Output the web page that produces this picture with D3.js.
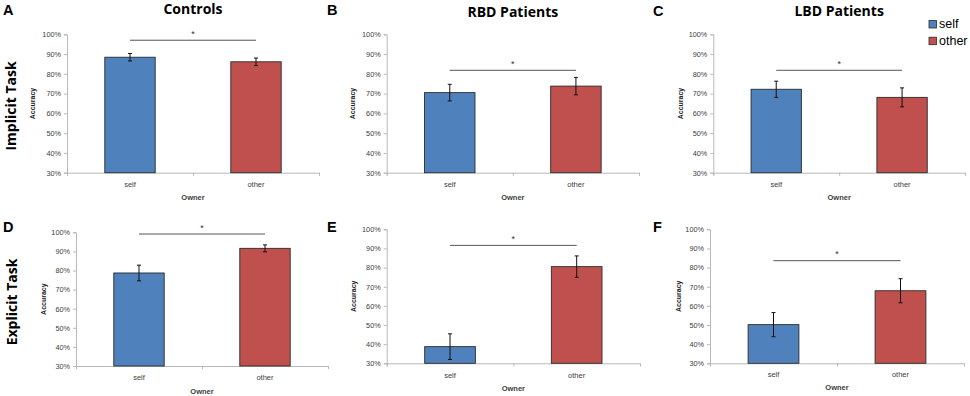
<!DOCTYPE html>
<html>
<head>
<meta charset="utf-8">
<script src="https://cdn.jsdelivr.net/npm/d3@7"></script>
<style>
  html, body { margin: 0; padding: 0; background: #fff; }
  svg { display: block; font-family: "Liberation Sans", Arial, sans-serif; }
</style>
</head>
<body>
<svg id="chart" width="970" height="396"></svg>
<script>
// ---- data ----
const categories = ["self", "other"];
const panelLetters = ["A", "B", "C", "D", "E", "F"];
const groupTitles = ["Controls", "RBD Patients", "LBD Patients"];
const taskLabels = ["Implicit Task", "Explicit Task"];
const selfMeans  = [88.4, 70.5, 72.2, 78.7, 38.7, 50.2];
const otherMeans = [86.1, 73.8, 68.1, 91.6, 80.5, 67.9];
const selfErr    = [1.9, 4.2, 4.1, 4.1, 6.7, 6.3];
const otherErr   = [1.9, 4.4, 4.8, 1.8, 5.6, 6.3];
const sigLevel   = [97.0, 81.8, 81.8, 99.1, 91.6, 83.6];
const yTicks = [30, 40, 50, 60, 70, 80, 90, 100];
const yDomain = [30, 100];
const xTitle = "Owner";
const yTitle = "Accuracy";

// ---- layout ----
const layout = [
  {left: 67,    right: 319, top: 34.3,  bottom: 172.7, letterX: 3,   letterY: 15,    titleY: 13.5, accX: 32.5, selfY: 187,   ownerY: 200},
  {left: 386.7, right: 639, top: 34.3,  bottom: 172.7, letterX: 327, letterY: 15,    titleY: 16.5, accX: 352,  selfY: 187,   ownerY: 200},
  {left: 713.3, right: 965, top: 34.3,  bottom: 172.7, letterX: 653, letterY: 15.5,  titleY: 16,   accX: 680,  selfY: 187,   ownerY: 200},
  {left: 76,    right: 328, top: 232.3, bottom: 366,   letterX: 3,   letterY: 231.5, titleY: null, accX: 43,   selfY: 379.5, ownerY: 393.5},
  {left: 386.7, right: 640, top: 229.3, bottom: 363.3, letterX: 327, letterY: 231.5, titleY: null, accX: 353,  selfY: 378,   ownerY: 391},
  {left: 710,   right: 964, top: 229.3, bottom: 363.3, letterX: 653, letterY: 231.5, titleY: null, accX: 678,  selfY: 377,   ownerY: 389.5}
];
const colors = {self: "#4f81bd", other: "#c0504d"};
const axisColor = "#b8b8b8";
const textColor = "#404040";

const svg = d3.select("#chart");

layout.forEach((L, i) => {
  const g = svg.append("g");
  const x = d3.scaleBand().domain(categories).range([L.left, L.right]).paddingInner(0.6).paddingOuter(0.3);
  const y = d3.scaleLinear().domain(yDomain).range([L.bottom, L.top]);
  const vals = [
    {cat: "self",  mean: selfMeans[i],  err: selfErr[i]},
    {cat: "other", mean: otherMeans[i], err: otherErr[i]}
  ];

  // y axis
  const ya = g.append("g").attr("transform", `translate(${L.left},0)`)
    .call(d3.axisLeft(y).tickValues(yTicks).tickFormat(d => d + "%").tickSizeOuter(0).tickSize(3).tickPadding(3));
  ya.select(".domain").attr("stroke", axisColor);
  ya.selectAll(".tick line").attr("stroke", axisColor);
  ya.selectAll(".tick text").attr("fill", textColor).attr("font-size", 7.3)
    .attr("font-family", "'Liberation Sans', Arial, sans-serif");

  // x axis line with ticks at ends and middle
  const xl = d3.scaleLinear().domain([0, 1]).range([L.left, L.right]);
  const xa = g.append("g").attr("transform", `translate(0,${L.bottom})`)
    .call(d3.axisBottom(xl).tickValues([0, 0.5, 1]).tickFormat("").tickSizeOuter(0).tickSize(3));
  xa.select(".domain").attr("stroke", axisColor);
  xa.selectAll(".tick line").attr("stroke", axisColor);

  // bars
  g.selectAll("rect.bar").data(vals).join("rect")
    .attr("class", "bar")
    .attr("x", d => x(d.cat))
    .attr("width", x.bandwidth())
    .attr("y", d => y(d.mean))
    .attr("height", d => y(yDomain[0]) - y(d.mean))
    .attr("fill", d => colors[d.cat])
    .attr("stroke", "#2b2b2b")
    .attr("stroke-width", 0.9);

  // error bars
  const eb = g.selectAll("g.err").data(vals).join("g").attr("class", "err")
    .attr("stroke", "#111").attr("stroke-width", 1);
  eb.append("line")
    .attr("x1", d => x(d.cat) + x.bandwidth() / 2).attr("x2", d => x(d.cat) + x.bandwidth() / 2)
    .attr("y1", d => y(d.mean - d.err)).attr("y2", d => y(d.mean + d.err));
  eb.append("line")
    .attr("x1", d => x(d.cat) + x.bandwidth() / 2 - 2).attr("x2", d => x(d.cat) + x.bandwidth() / 2 + 2)
    .attr("y1", d => y(d.mean + d.err)).attr("y2", d => y(d.mean + d.err));
  eb.append("line")
    .attr("x1", d => x(d.cat) + x.bandwidth() / 2 - 2).attr("x2", d => x(d.cat) + x.bandwidth() / 2 + 2)
    .attr("y1", d => y(d.mean - d.err)).attr("y2", d => y(d.mean - d.err));

  // significance line and star
  const sx1 = x("self") + x.bandwidth() / 2, sx2 = x("other") + x.bandwidth() / 2;
  g.append("line").attr("x1", sx1).attr("x2", sx2)
    .attr("y1", y(sigLevel[i])).attr("y2", y(sigLevel[i]))
    .attr("stroke", "#555").attr("stroke-width", 1);
  g.append("text").attr("x", (sx1 + sx2) / 2).attr("y", y(sigLevel[i]) - 3.5)
    .attr("text-anchor", "middle").attr("font-size", 9).attr("fill", "#333").text("*");

  // category labels
  g.selectAll("text.cat").data(categories).join("text").attr("class", "cat")
    .attr("x", d => x(d) + x.bandwidth() / 2).attr("y", L.selfY)
    .attr("text-anchor", "middle").attr("font-size", 7.5).attr("fill", textColor).text(d => d);
  // x title
  g.append("text").attr("x", (L.left + L.right) / 2).attr("y", L.ownerY)
    .attr("text-anchor", "middle").attr("font-size", 7.5).attr("font-weight", "bold").attr("fill", textColor).text(xTitle);
  // y title
  g.append("text").attr("transform", `translate(${L.accX + 2.5},${(L.top + L.bottom) / 2}) rotate(-90)`)
    .attr("text-anchor", "middle").attr("font-size", 7).attr("font-weight", "bold").attr("fill", "#222").text(yTitle);

  // panel letter
  g.append("text").attr("x", L.letterX).attr("y", L.letterY)
    .attr("font-size", 14.5).attr("font-weight", "bold").attr("fill", "#000").text(panelLetters[i]);

  // group title
  if (L.titleY !== null) {
    g.append("text").attr("x", (L.left + L.right) / 2 + 0).attr("y", L.titleY)
      .attr("text-anchor", "middle").attr("font-size", 14).attr("font-weight", "bold")
      .attr("font-family", "'Open Sans', 'Liberation Sans', sans-serif")
      .attr("fill", "#000").text(groupTitles[i]);
  }
});

// task labels (rows)
const taskPos = [{x: 15.5, y: 106}, {x: 16.5, y: 302}];
taskLabels.forEach((t, k) => {
  svg.append("text").attr("transform", `translate(${taskPos[k].x},${taskPos[k].y}) rotate(-90)`)
    .attr("text-anchor", "middle").attr("font-size", 14).attr("font-weight", "bold")
    .attr("font-family", "'Open Sans', 'Liberation Sans', sans-serif")
    .attr("fill", "#000").text(t);
});

// legend
const leg = svg.append("g").attr("transform", "translate(929,20.5)");
categories.forEach((c, k) => {
  leg.append("rect").attr("x", 0).attr("y", k * 16.7).attr("width", 7.5).attr("height", 7.5)
    .attr("fill", colors[c]).attr("stroke", "#2b2b2b").attr("stroke-width", 0.8);
  leg.append("text").attr("x", 10).attr("y", k * 16.7 + 7.8).attr("font-size", 12.5)
    .attr("fill", "#000").text(c);
});
</script>
</body>
</html>
